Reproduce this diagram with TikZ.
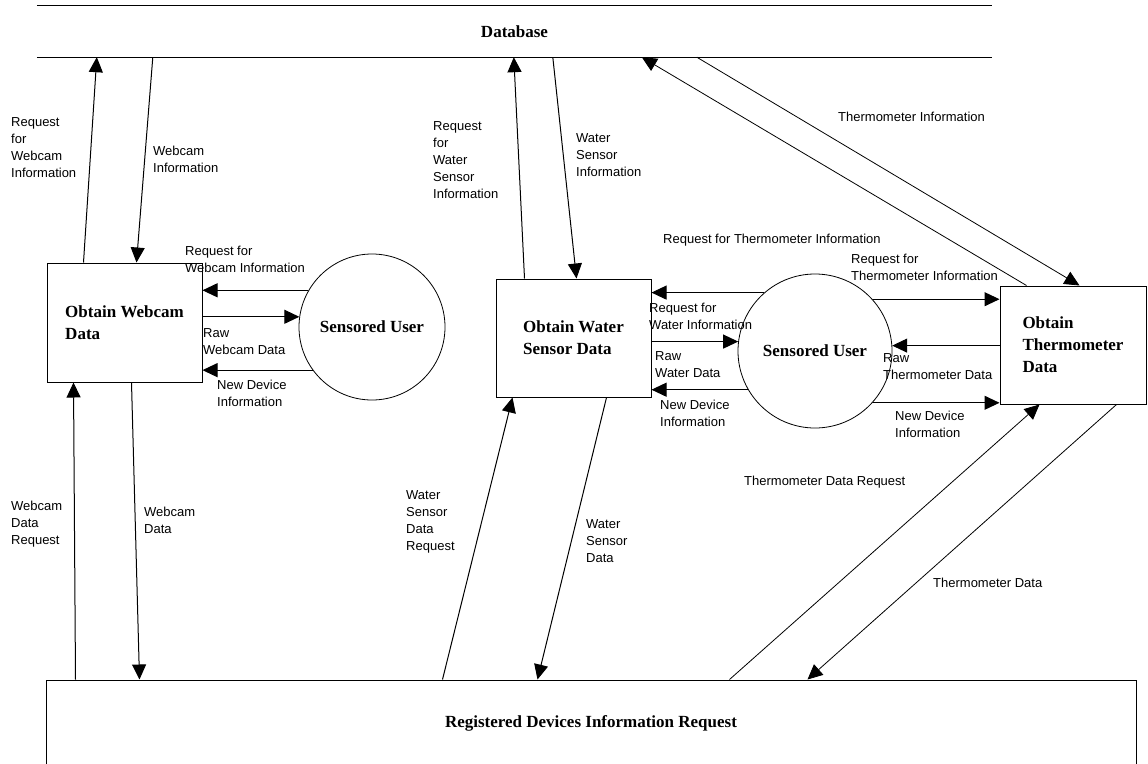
\documentclass[tikz,border=0pt]{standalone}
\usepackage{fontspec}
\setmainfont{Liberation Serif}
\newfontfamily\labfont{Liberation Sans}
\usetikzlibrary{arrows.meta,calc}
\begin{document}
\begin{tikzpicture}[x=1pt,y=-1pt,
  proc/.style={draw,line width=1pt,inner sep=0pt,font=\bfseries\fontsize{17}{22}\selectfont,align=left},
  ent/.style={draw,circle,line width=0.8pt,inner sep=0pt,font=\bfseries\fontsize{17}{22}\selectfont},
  lab/.style={anchor=north west,inner sep=0pt,align=left,font=\labfont\fontsize{13}{17}\selectfont},
  flow/.style={line width=1pt,-{Triangle[length=15pt,width=14pt]}},
  dflow/.style={line width=0.8pt,-{Triangle[length=15pt,width=14pt]}}]
\useasboundingbox (0,0) rectangle (1148,763);
\clip (0,0) rectangle (1148,763);
\fill[white] (0,0) rectangle (1148,763);

% data store
\node[minimum width=955pt,minimum height=51pt,inner sep=0pt,font=\bfseries\fontsize{17}{22}\selectfont] (db) at (514.5,31.5) {Database};
\draw[line width=1pt] (db.north west) -- (db.north east) (db.south west) -- (db.south east);

% processes and entities
\node[proc,minimum width=155pt,minimum height=119pt] (wc) at (124.5,322.5) {Obtain Webcam\\Data};
\node[proc,minimum width=155pt,minimum height=118pt] (ws) at (573.5,338) {Obtain Water\\Sensor Data};
\node[proc,minimum width=146pt,minimum height=118pt] (th) at (1073,345) {Obtain\\Thermometer\\Data};
\node[proc,minimum width=1090pt,minimum height=86pt] (reg) at (591,723) {Registered Devices Information Request};
\node[ent,minimum size=146pt] (su1) at (372,327) {Sensored User};
\node[ent,minimum size=154pt] (su2) at (815,351) {Sensored User};

% webcam flows
\draw[flow] ($(wc.north west)+(37,0)$) -- ($(db.south west)+(60,0)$);
\draw[flow] ($(db.south west)+(116,0)$) -- ($(wc.north west)+(90,0)$);
\draw[flow] (su1.150.5) -- (su1.150.5 -| wc.east);
\draw[flow] (su1.172.9 -| wc.east) -- (su1.172.9);
\draw[flow] (su1.216.1) -- (su1.216.1 -| wc.east);
\draw[flow] ($(reg.north west)+(30,0)$) -- ($(wc.south west)+(27,0)$);
\draw[flow] ($(wc.south west)+(85,0)$) -- ($(reg.north west)+(94,0)$);

% water flows
\draw[flow] ($(ws.north west)+(29,0)$) -- ($(db.south west)+(477,0)$);
\draw[flow] ($(db.south west)+(516,0)$) -- ($(ws.north west)+(81,0)$);
\draw[flow] (su2.131.1) -- (su2.131.1 -| ws.east);
\draw[flow] (su2.173.3 -| ws.east) -- (su2.173.3);
\draw[flow] (su2.210.4) -- (su2.210.4 -| ws.east);
\draw[flow] ($(reg.north west)+(397,0)$) -- ($(ws.south west)+(17,0)$);
\draw[flow] ($(ws.south west)+(111,0)$) -- ($(reg.north west)+(492,0)$);

% thermometer flows
\draw[dflow] ($(db.south west)+(660,0)$) -- ($(th.north west)+(80,0)$);
\draw[dflow] ($(th.north west)+(27,0)$) -- ($(db.south west)+(605,0)$);
\draw[flow] (su2.42.5) -- (su2.42.5 -| th.west);
\draw[flow] (su2.4.5 -| th.west) -- (su2.4.5);
\draw[flow] (su2.318.5) -- (su2.318.5 -| th.west);
\draw[dflow] ($(reg.north west)+(684,0)$) -- ($(th.south west)+(40,0)$);
\draw[dflow] ($(th.south west)+(117,0)$) -- ($(reg.north west)+(762,0)$);

% labels
\node[lab] (l1) at (11,117.5) {Request\\for\\Webcam\\Information};
\node[lab] (l2) at (153,145.5) {Webcam\\Information};
\node[lab] (l3) at (185,245.5) {Request for\\Webcam Information};
\node[lab] (l4) at (203,328.5) {Raw\\Webcam Data};
\node[lab] (l5) at (217,379.5) {New Device\\Information};
\node[lab] (l6) at (11,500.5) {Webcam\\Data\\Request};
\node[lab] (l7) at (144,506.5) {Webcam\\Data};
\node[lab] (l8) at (433,121.5) {Request\\for\\Water\\Sensor\\Information};
\node[lab] (l9) at (576,133.5) {Water\\Sensor\\Information};
\node[lab] (l10) at (663,233.5) {Request for Thermometer Information};
\node[lab] (l11) at (838,111.5) {Thermometer Information};
\node[lab] (l12) at (649,302.5) {Request for\\Water Information};
\node[lab] (l13) at (655,351.5) {Raw\\Water Data};
\node[lab] (l14) at (660,399.5) {New Device\\Information};
\node[lab] (l15) at (851,253.5) {Request for\\Thermometer Information};
\node[lab] (l16) at (883,353.5) {Raw\\Thermometer Data};
\node[lab] (l17) at (895,410.5) {New Device\\Information};
\node[lab] (l18) at (406,490.5) {Water\\Sensor\\Data\\Request};
\node[lab] (l19) at (586,519.5) {Water\\Sensor\\Data};
\node[lab] (l20) at (744,475.5) {Thermometer Data Request};
\node[lab] (l21) at (933,577.5) {Thermometer Data};
\end{tikzpicture}
\end{document}
